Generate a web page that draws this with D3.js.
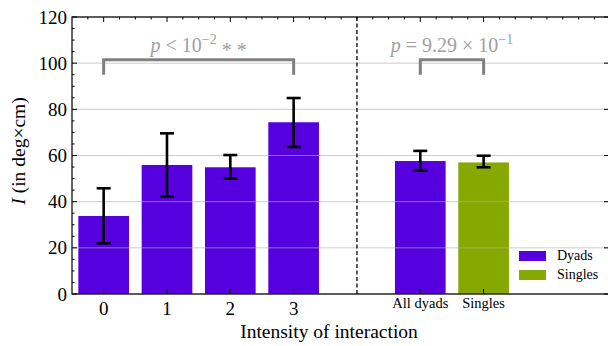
<!DOCTYPE html>
<html>
<head>
<meta charset="utf-8">
<script src="https://cdn.jsdelivr.net/npm/d3@7"></script>
<style>
  body { margin: 0; background: #fff; }
  svg { display: block; }
  svg text { font-family: "Liberation Serif", "Times New Roman", Times, serif; }
</style>
</head>
<body>
<svg id="chart" width="608" height="346"></svg>
<script>
// intensity groups (dyads)
const groupLabels = ['0', '1', '2', '3'];
const groupPos = [0, 1, 2, 3];
const groupMeans = [33.8, 55.9, 54.9, 74.4];
const groupLow = [22.0, 42.3, 50.0, 63.7];
const groupHigh = [45.8, 69.6, 60.2, 84.9];

// all dyads vs singles
const compareLabels = ['All dyads', 'Singles'];
const comparePos = [5, 6];
const compareMeans = [57.6, 57.0];
const compareLow = [53.4, 54.9];
const compareHigh = [62.0, 59.9];

const yTicks = [0, 20, 40, 60, 80, 100, 120];
const legendLabels = ['Dyads', 'Singles'];

const DYAD = '#5600e0';
const SINGLE = '#87a800';

const svg = d3.select('#chart');
const plotL = 72, plotR = 609, plotT = 17, plotB = 294;

const x = d3.scaleLinear().domain([-0.5, 7.98]).range([plotL, plotR]);
const y = d3.scaleLinear().domain([0, 120]).range([plotB, plotT]);
const barW = x(0.8) - x(0);

const bars = groupPos.map((p, i) => ({
  pos: p, mean: groupMeans[i], lo: groupLow[i], hi: groupHigh[i], color: DYAD,
})).concat(comparePos.map((p, i) => ({
  pos: p, mean: compareMeans[i], lo: compareLow[i], hi: compareHigh[i],
  color: i === 0 ? DYAD : SINGLE,
})));

svg.append('g').selectAll('rect').data(bars).enter().append('rect')
  .attr('x', d => x(d.pos) - barW / 2)
  .attr('width', barW)
  .attr('y', d => y(d.mean))
  .attr('height', d => y(0) - y(d.mean))
  .attr('fill', d => d.color);

// grid lines drawn over bars
svg.append('g').selectAll('line').data(yTicks).enter().append('line')
  .attr('x1', plotL).attr('x2', plotR)
  .attr('y1', d => y(d)).attr('y2', d => y(d))
  .attr('stroke', '#b0b0b0').attr('stroke-opacity', 0.65).attr('stroke-width', 1);

// error bars
const err = svg.append('g').attr('stroke', '#000').attr('stroke-width', 2.6);
bars.forEach((d) => {
  const cx = x(d.pos);
  err.append('line').attr('x1', cx).attr('x2', cx).attr('y1', y(d.lo)).attr('y2', y(d.hi));
  err.append('line').attr('x1', cx - 7).attr('x2', cx + 7).attr('y1', y(d.lo)).attr('y2', y(d.lo));
  err.append('line').attr('x1', cx - 7).attr('x2', cx + 7).attr('y1', y(d.hi)).attr('y2', y(d.hi));
});

// dashed separator
svg.append('line')
  .attr('x1', x(4)).attr('x2', x(4)).attr('y1', plotT).attr('y2', plotB)
  .attr('stroke', '#000').attr('stroke-width', 1.3).attr('stroke-dasharray', '4,2.5');

// significance brackets
function bracket(x0, x1, label) {
  const g = svg.append('g');
  g.append('path')
    .attr('d', `M${x(x0)},${y(95)}V${y(101.5)}H${x(x1)}V${y(95)}`)
    .attr('fill', 'none').attr('stroke', '#808080').attr('stroke-width', 3);
  const t = g.append('text')
    .attr('x', x((x0 + x1) / 2)).attr('y', 52)
    .attr('text-anchor', 'middle').attr('font-size', 20).attr('fill', '#a0a0a0');
  label(t);
}
bracket(0, 3, (t) => {
  t.append('tspan').attr('font-style', 'italic').text('p');
  t.append('tspan').text(' < 10');
  t.append('tspan').attr('font-size', 14).attr('dy', -8).text('\u22122');
  t.append('tspan').attr('dy', 13).text(' * *');
  t.append('tspan').attr('dy', -5).text('');
});
bracket(5, 6, (t) => {
  t.append('tspan').attr('font-style', 'italic').text('p');
  t.append('tspan').text(' = 9.29 \u00d7 10');
  t.append('tspan').attr('font-size', 14).attr('dy', -8).text('\u22121');
});

// spines
svg.append('rect')
  .attr('x', plotL).attr('y', plotT).attr('width', plotR - plotL).attr('height', plotB - plotT)
  .attr('fill', 'none').attr('stroke', '#000').attr('stroke-width', 1.2);

// ticks (inward)
const tk = svg.append('g').attr('stroke', '#000').attr('stroke-width', 1);
d3.range(0, 121, 5).forEach((v) => {
  const len = v % 20 === 0 ? 5 : 2.5;
  tk.append('line').attr('x1', plotL).attr('x2', plotL + len).attr('y1', y(v)).attr('y2', y(v));
  if (v % 20 === 0) {
    tk.append('line').attr('x1', plotR).attr('x2', plotR - len).attr('y1', y(v)).attr('y2', y(v));
  }
});
const majorX = groupPos.concat(comparePos);
majorX.forEach((p) => {
  tk.append('line').attr('x1', x(p)).attr('x2', x(p)).attr('y1', plotB).attr('y2', plotB - 5);
});
d3.range(-0.25, 8, 0.25).forEach((p) => {
  const major = majorX.includes(p);
  tk.append('line').attr('x1', x(p)).attr('x2', x(p))
    .attr('y1', plotT).attr('y2', plotT + (major ? 5 : 2.5));
});

// y tick labels
svg.append('g').selectAll('text').data(yTicks).enter().append('text')
  .attr('x', 67).attr('y', d => y(d)).attr('dy', '0.35em')
  .attr('text-anchor', 'end').attr('font-size', 19).text(d => d);

// x tick labels
svg.append('g').selectAll('text').data(groupLabels).enter().append('text')
  .attr('x', (d, i) => x(groupPos[i])).attr('y', 315)
  .attr('text-anchor', 'middle').attr('font-size', 19).text(d => d);
svg.append('g').selectAll('text').data(compareLabels).enter().append('text')
  .attr('x', (d, i) => x(comparePos[i])).attr('y', 308)
  .attr('text-anchor', 'middle').attr('font-size', 14.5).text(d => d);

// axis titles
svg.append('text').attr('x', 329).attr('y', 338)
  .attr('text-anchor', 'middle').attr('font-size', 19.5).text('Intensity of interaction');
const yl = svg.append('text')
  .attr('transform', 'translate(25,151) rotate(-90)')
  .attr('text-anchor', 'middle').attr('font-size', 19.5);
yl.append('tspan').attr('font-style', 'italic').text('I');
yl.append('tspan').text(' (in deg\u00d7cm)');

// legend
const legend = svg.append('g');
[DYAD, SINGLE].forEach((c, i) => {
  legend.append('rect').attr('x', 519).attr('y', 251 + i * 19)
    .attr('width', 27).attr('height', 10).attr('fill', c);
  legend.append('text').attr('x', 557).attr('y', 260 + i * 19)
    .attr('font-size', 14).text(legendLabels[i]);
});
</script>
</body>
</html>
